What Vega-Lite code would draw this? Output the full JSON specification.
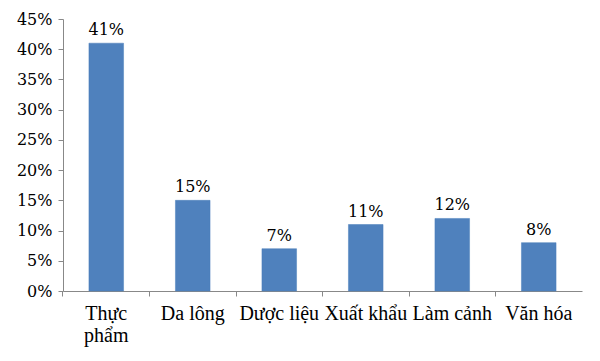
{
  "$schema": "https://vega.github.io/schema/vega-lite/v6.json",
  "width": 519,
  "height": 272,
  "autosize": {"type": "none"},
  "padding": {"left": 63, "top": 19, "right": 18, "bottom": 70},
  "background": "white",
  "config": {
    "view": {"stroke": null},
    "font": "DejaVu Serif"
  },
  "data": {
    "values": [
      {"cat": "Thực phẩm", "v": 0.41},
      {"cat": "Da lông", "v": 0.15},
      {"cat": "Dược liệu", "v": 0.07},
      {"cat": "Xuất khẩu", "v": 0.11},
      {"cat": "Làm cảnh", "v": 0.12},
      {"cat": "Văn hóa", "v": 0.08}
    ]
  },
  "encoding": {
    "x": {
      "field": "cat",
      "type": "nominal",
      "sort": null,
      "scale": {"paddingInner": 0.6, "paddingOuter": 0.3},
      "axis": {
        "title": null,
        "labelAngle": 0,
        "labelFont": "serif",
        "labelFontSize": 20,
        "labelColor": "#000",
        "labelPadding": 7,
        "labelLineHeight": 22,
        "labelExpr": "datum.label == 'Thực phẩm' ? ['Thực', 'phẩm'] : datum.label",
        "domainColor": "#888",
        "tickColor": "#888",
        "tickSize": 5,
        "bandPosition": -0.75
      }
    },
    "y": {
      "field": "v",
      "type": "quantitative",
      "scale": {"domain": [0, 0.45], "nice": false},
      "axis": {
        "title": null,
        "format": ".0%",
        "values": [0, 0.05, 0.1, 0.15, 0.2, 0.25, 0.3, 0.35, 0.4, 0.45],
        "grid": false,
        "labelFont": "DejaVu Serif",
        "labelFontSize": 16,
        "labelColor": "#000",
        "labelPadding": 6,
        "domainColor": "#888",
        "tickColor": "#888",
        "tickSize": 5
      }
    }
  },
  "layer": [
    {"mark": {"type": "bar", "color": "#4F81BD", "stroke": "#4A7EBB", "strokeWidth": 0.5}},
    {
      "mark": {"type": "text", "dy": -13, "font": "DejaVu Serif", "fontSize": 16, "color": "#000"},
      "encoding": {"text": {"field": "v", "type": "quantitative", "format": ".0%"}}
    }
  ]
}
